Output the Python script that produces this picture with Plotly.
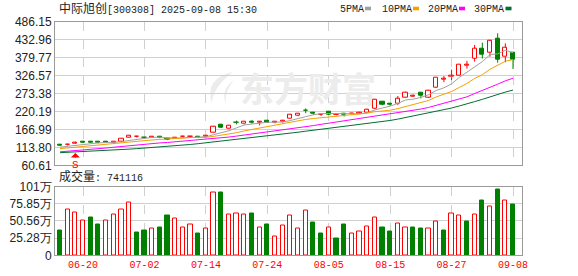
import plotly.graph_objects as go

# ---------------- data ----------------
dates = ["06-17", "06-18", "06-19", "06-20", "06-23", "06-24", "06-25", "06-26", "06-27", "06-30",
         "07-01", "07-02", "07-03", "07-04", "07-07", "07-08", "07-09", "07-10", "07-11", "07-14",
         "07-15", "07-16", "07-17", "07-18", "07-21", "07-22", "07-23", "07-24", "07-25", "07-28",
         "07-29", "07-30", "07-31", "08-01", "08-04", "08-05", "08-06", "08-07", "08-08", "08-11",
         "08-12", "08-13", "08-14", "08-15", "08-18", "08-19", "08-20", "08-21", "08-22", "08-25",
         "08-26", "08-27", "08-28", "08-29", "09-01", "09-02", "09-03", "09-04", "09-05", "09-08"]

opens = [122.0, 120.5, 125.5, 129.2, 129.3, 129.5, 129.0, 129.0, 132.0, 143.0,
         145.0, 143.0, 143.5, 144.0, 140.0, 140.0, 144.5, 145.5, 144.5, 145.0,
         157.0, 181.0, 169.0, 187.5, 183.0, 189.0, 188.3, 193.0, 187.5, 188.5,
         200.0, 208.0, 222.0, 215.5, 210.0, 218.5, 210.5, 212.0, 213.5, 215.0,
         217.6, 229.5, 248.0, 241.2, 242.0, 262.0, 265.0, 274.5, 262.0, 291.7,
         315.5, 322.0, 326.0, 357.0, 377.7, 405.0, 395.5, 437.0, 382.5, 395.4]
highs = [123.5, 124.0, 131.0, 131.5, 130.5, 130.5, 130.0, 132.0, 140.0, 149.0,
         148.0, 144.0, 146.0, 145.0, 141.0, 144.0, 148.0, 148.0, 146.0, 149.0,
         176.0, 183.0, 179.0, 193.0, 191.0, 194.0, 192.0, 194.0, 190.0, 194.0,
         211.0, 213.0, 229.0, 219.0, 213.0, 220.0, 213.0, 214.0, 216.0, 219.0,
         228.0, 256.0, 250.0, 243.5, 266.0, 279.0, 270.0, 275.0, 282.0, 322.0,
         325.0, 344.0, 361.0, 370.0, 417.0, 424.0, 432.0, 451.7, 422.0, 396.0]
lows = [118.5, 119.0, 124.0, 126.5, 127.0, 126.0, 127.0, 128.0, 131.0, 142.0,
        143.0, 140.0, 142.0, 141.0, 135.0, 139.0, 143.0, 144.0, 141.0, 144.0,
        156.0, 171.0, 167.0, 182.0, 181.5, 184.0, 179.0, 186.0, 185.0, 187.0,
        199.0, 206.0, 215.0, 211.0, 207.0, 210.0, 209.0, 205.0, 212.0, 214.0,
        216.0, 228.0, 239.0, 237.0, 239.0, 261.0, 263.0, 259.0, 260.0, 290.0,
        307.0, 313.0, 325.0, 347.0, 368.0, 377.0, 382.5, 364.6, 366.0, 346.0]
closes = [120.0, 123.0, 128.5, 128.8, 128.2, 127.0, 128.5, 130.0, 138.5, 147.0,
          145.5, 141.0, 144.0, 142.0, 136.5, 142.5, 145.5, 146.0, 143.5, 147.5,
          174.0, 173.0, 177.0, 186.5, 190.0, 188.0, 189.0, 187.0, 188.0, 192.5,
          209.5, 212.5, 221.5, 214.5, 210.8, 212.0, 211.5, 211.0, 214.5, 217.0,
          226.5, 254.0, 241.0, 240.5, 258.0, 277.0, 267.0, 265.5, 280.8, 321.4,
          316.5, 326.0, 360.0, 358.0, 407.3, 387.5, 429.0, 372.6, 410.0, 372.6]
volumes = [360000, 680000, 635000, 505000, 550000, 460000, 505000, 605000, 670000, 770000,
           330000, 370000, 387000, 416000, 580000, 535000, 410000, 446000, 315000, 387000,
           930000, 920000, 605000, 620000, 605000, 610000, 410000, 446000, 278000, 440000,
           590000, 397000, 654000, 476000, 327000, 410000, 253000, 460000, 320000, 350000,
           427000, 560000, 416000, 357000, 470000, 416000, 416000, 400000, 387000, 500000,
           370000, 620000, 590000, 490000, 605000, 800000, 724000, 967000, 800000, 741116]

ma5 = [114.5, 117.0, 119.5, 122.5, 125.5, 126.9, 128.0, 128.4, 130.4, 134.2,
       137.9, 140.4, 143.2, 143.9, 141.8, 141.2, 142.1, 142.5, 142.8, 145.0,
       151.3, 156.8, 163.0, 171.6, 180.1, 182.9, 186.1, 188.1, 188.4, 188.9,
       193.2, 197.9, 204.8, 210.1, 213.8, 214.3, 214.1, 212.0, 212.0, 213.2,
       216.1, 224.6, 230.6, 235.8, 244.0, 254.1, 256.7, 261.6, 269.7, 282.3,
       290.2, 302.0, 320.9, 336.4, 353.6, 367.8, 388.4, 390.9, 401.3, 394.4]
ma10 = [110.0, 112.3, 114.5, 116.5, 118.6, 120.7, 122.5, 124.0, 126.5, 129.9,
        132.4, 134.2, 135.8, 137.2, 138.0, 139.6, 141.3, 142.9, 143.4, 143.4,
        146.3, 149.5, 152.8, 157.2, 162.6, 167.1, 171.5, 175.6, 180.0, 184.5,
        188.1, 192.0, 196.5, 199.3, 201.4, 203.8, 206.0, 208.4, 211.1, 213.5,
        215.2, 219.4, 221.3, 223.9, 228.6, 235.1, 240.7, 246.1, 252.8, 263.2,
        272.2, 279.4, 291.3, 303.1, 318.0, 329.0, 345.2, 355.9, 368.9, 374.0]
ma20 = [100.5, 102.0, 103.8, 105.6, 107.5, 109.6, 111.8, 114.2, 116.6, 119.0,
        121.2, 123.3, 125.2, 126.9, 128.3, 130.2, 131.9, 133.5, 135.0, 136.7,
        139.4, 141.9, 144.3, 147.2, 150.3, 153.4, 156.4, 159.3, 161.7, 164.0,
        167.2, 170.8, 174.7, 178.3, 182.0, 185.5, 188.8, 192.0, 195.6, 199.0,
        201.7, 205.7, 208.9, 211.6, 215.0, 219.5, 223.4, 227.3, 232.0, 238.4,
        243.7, 249.4, 256.3, 263.5, 273.3, 282.1, 293.0, 301.0, 310.9, 318.6]
ma30 = [98.0, 99.0, 100.0, 101.0, 102.0, 103.0, 104.2, 105.5, 107.0, 108.5,
        110.0, 111.5, 113.0, 114.5, 116.0, 118.0, 120.0, 122.3, 124.7, 127.2,
        129.6, 132.0, 134.4, 137.0, 139.7, 142.5, 145.1, 147.5, 150.0, 152.6,
        155.6, 158.6, 161.7, 164.6, 167.3, 170.2, 173.0, 175.6, 178.2, 180.5,
        183.2, 187.0, 190.2, 193.5, 197.5, 202.0, 206.1, 210.1, 214.7, 220.4,
        225.2, 230.3, 236.4, 242.1, 249.3, 256.0, 264.0, 270.1, 277.6, 283.6]

price_ticks = [60.61, 113.80, 166.99, 220.19, 273.38, 326.57, 379.77, 432.96, 486.15]
vol_ticks = [0, 252833, 505667, 758500, 1011333]
vol_tick_text = ["0", "25.28万", "50.56万", "75.85万", "101万"]
date_ticks = ["06-20", "07-02", "07-14", "07-24", "08-05", "08-15", "08-27", "09-08"]
stock_name = "中际旭创"
stock_code = "[300308]"
stamp = "2025-09-08 15:30"
ma_names = ["5PMA", "10PMA", "20PMA", "30PMA"]
signal_index = 2
signal_text = "S"
watermark = "东方财富"

# ---------------- styling ----------------
W, H = 578, 276
RED = "#ff0000"
GREEN = "#008000"
MA_COLORS = ["#a0a0a0", "#f5a000", "#ff00ff", "#006f32"]
GRID = "#d0d0d0"
FRAME = "#9a9a9a"
TXT = "#222222"
MONO = "Liberation Mono, Noto Sans CJK SC"
SANS = "Liberation Sans, Arial, sans-serif"


def px(x):
    return x / W


def py(y):
    return 1 - y / H


x = list(range(len(dates)))
XR = [-0.65, 60.17]
XD = [px(55), px(522)]
main_dom = [py(165.3), py(21.7)]
vol_dom = [py(255.3), py(186.5)]

fig = go.Figure()

# candle bodies
MINH = 1.2
up_idx = [i for i in x if closes[i] > opens[i]]
dn_idx = [i for i in x if closes[i] <= opens[i]]
for idxs, fill, col in [(up_idx, "#ffffff", RED), (dn_idx, GREEN, GREEN)]:
    fig.add_trace(go.Bar(
        x=idxs,
        y=[max(abs(closes[i] - opens[i]), MINH) for i in idxs],
        base=[min(closes[i], opens[i]) for i in idxs],
        width=0.55, marker=dict(color=fill, line=dict(color=col, width=1)),
        xaxis="x", yaxis="y", hoverinfo="skip"))

# wicks
for idxs, col, hollow in [(up_idx, RED, True), (dn_idx, GREEN, False)]:
    wx, wy = [], []
    for i in idxs:
        top = max(opens[i], closes[i])
        bot = min(opens[i], closes[i])
        if hollow:
            wx += [i, i, None, i, i, None]
            wy += [highs[i], top, None, bot, lows[i], None]
        else:
            wx += [i, i, None]
            wy += [highs[i], lows[i], None]
    fig.add_trace(go.Scatter(x=wx, y=wy, mode="lines", line=dict(color=col, width=1),
                             xaxis="x", yaxis="y", hoverinfo="skip"))

# moving averages
for vals, col in zip([ma5, ma10, ma20, ma30], MA_COLORS):
    fig.add_trace(go.Scatter(x=x, y=vals, mode="lines", line=dict(color=col, width=1),
                             xaxis="x", yaxis="y", hoverinfo="skip"))

# volume bars: colour by close versus previous close
vol_up = [closes[0] >= opens[0]] + [closes[i] >= closes[i - 1] for i in x[1:]]
vu = [i for i in x if vol_up[i]]
vd = [i for i in x if not vol_up[i]]
for idxs, fill, col in [(vu, "#ffffff", RED), (vd, GREEN, GREEN)]:
    fig.add_trace(go.Bar(
        x=idxs, y=[volumes[i] for i in idxs], width=0.55,
        marker=dict(color=fill, line=dict(color=col, width=1)),
        xaxis="x2", yaxis="y2", hoverinfo="skip"))

tick_pos = [dates.index(d) for d in date_ticks]

axis_common = dict(showline=True, linecolor=FRAME, linewidth=1, mirror=True,
                   zeroline=False, ticks="")
fig.update_layout(
    width=W, height=H, margin=dict(l=0, r=0, t=0, b=0),
    paper_bgcolor="white", plot_bgcolor="white", template="none",
    showlegend=False, barmode="overlay", bargap=0,
    xaxis=dict(domain=XD, range=XR, anchor="y", tickvals=tick_pos, showticklabels=False,
               showgrid=True, gridcolor=GRID, griddash="dash", gridwidth=1, **axis_common),
    yaxis=dict(domain=main_dom, range=[price_ticks[0], price_ticks[-1]], anchor="x",
               tickvals=price_ticks, ticktext=[f"{v:.2f}" for v in price_ticks],
               showgrid=True, gridcolor=GRID, gridwidth=1,
               tickfont=dict(family=SANS, size=12, color=TXT), **axis_common),
    xaxis2=dict(domain=XD, range=XR, anchor="y2", tickvals=tick_pos, ticktext=date_ticks,
                showgrid=True, gridcolor=GRID, griddash="dash", gridwidth=1,
                tickfont=dict(family=MONO, size=10, color=RED), **axis_common),
    yaxis2=dict(domain=vol_dom, range=[vol_ticks[0], vol_ticks[-1]], anchor="x2",
                tickvals=vol_ticks, ticktext=vol_tick_text,
                showgrid=True, gridcolor=GRID, gridwidth=1,
                tickfont=dict(family=SANS, size=12, color=TXT), **axis_common),
)

ann = []
shapes = []
# watermark (logo swirl + text)
ann.append(dict(x=px(308), y=py(88), xref="paper", yref="paper", text=f"<b>{watermark}</b>",
                showarrow=False, font=dict(family="Noto Sans CJK SC", size=34, color="#ececec"),
                xanchor="center", yanchor="middle"))


def pth(pts):
    s = "M {:.5f} {:.5f}".format(px(pts[0][0]), py(pts[0][1]))
    for i in range(1, len(pts) - 1, 2):
        s += " Q {:.5f} {:.5f} {:.5f} {:.5f}".format(px(pts[i][0]), py(pts[i][1]),
                                                    px(pts[i + 1][0]), py(pts[i + 1][1]))
    return s + " Z"


shapes.append(dict(type="path", xref="paper", yref="paper", layer="below",
                   path=pth([(233, 72), (204, 78), (212, 104), (212, 88), (233, 72)]),
                   fillcolor="#ececec", line=dict(width=0)))
shapes.append(dict(type="path", xref="paper", yref="paper", layer="below",
                   path=pth([(234, 80), (220, 90), (226, 104), (224, 92), (234, 80)]),
                   fillcolor="#ececec", line=dict(width=0)))
# title
ann.append(dict(x=px(56.5), y=py(8.5), xref="paper", yref="paper",
                text=f'<span style="font-size:12px">{stock_name}</span>{stock_code} {stamp}',
                showarrow=False, font=dict(family=MONO, size=10, color=TXT),
                xanchor="left", yanchor="middle"))
# volume label
ann.append(dict(x=px(56.5), y=py(177), xref="paper", yref="paper",
                text=f'<span style="font-size:12px">成交量</span>: {volumes[-1]}',
                showarrow=False, font=dict(family=MONO, size=10, color=TXT),
                xanchor="left", yanchor="middle"))
# legend
leg_text_x = [338, 380, 425.5, 471.5]
leg_box_x = [365, 413, 459, 505.5]
for name, col, tx, bx in zip(ma_names, MA_COLORS, leg_text_x, leg_box_x):
    ann.append(dict(x=px(tx), y=py(9), xref="paper", yref="paper", text=name,
                    showarrow=False, font=dict(family=MONO, size=10, color=TXT),
                    xanchor="left", yanchor="middle"))
    shapes.append(dict(type="rect", xref="paper", yref="paper", x0=px(bx), x1=px(bx + 6),
                       y0=py(10.3), y1=py(6.7), fillcolor=col, line=dict(width=0)))
# signal marker: arrow pointing up to the candle, with its letter below
ann.append(dict(x=signal_index, y=lows[signal_index], xref="x", yref="y", text=signal_text,
                showarrow=True, arrowhead=1, arrowsize=1, arrowwidth=1.5, arrowcolor=RED,
                ax=0, ay=12, standoff=0, yshift=-9,
                font=dict(family=MONO, size=11, color=RED)))

fig.update_layout(annotations=ann, shapes=shapes)
fig.write_html("out.html")
